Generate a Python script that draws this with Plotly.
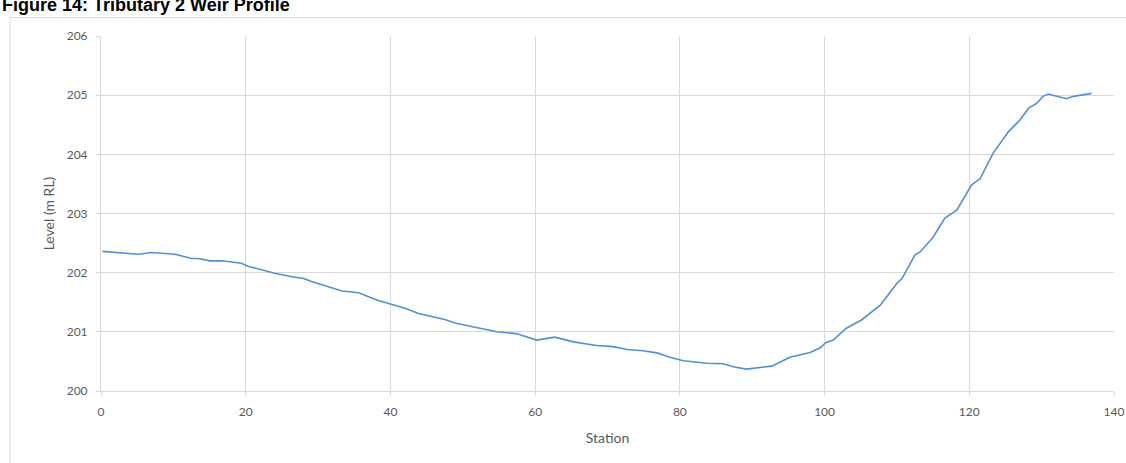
import plotly.graph_objects as go

# Data
station = [0.2, 2.4, 4.2, 5.2, 7.0, 8.8, 10.2, 11.6, 12.5, 13.4, 15.1, 16.7, 18.1, 19.4,
           20.3, 21.7, 24.0, 26.4, 28.0, 29.1, 31.4, 33.3, 35.6, 36.5, 38.3, 40.6, 42.0,
           43.9, 45.7, 47.5, 49.2, 51.5, 54.7, 57.4, 58.8, 60.2, 62.7, 65.3, 68.5, 70.8,
           72.7, 74.9, 77.0, 78.6, 80.5, 83.7, 86.0, 87.4, 89.2, 91.1, 92.7, 95.2, 98.0,
           99.4, 100.2, 101.2, 103.0, 105.1, 107.7, 110.0, 110.7, 112.5, 113.2, 115.0,
           116.6, 118.3, 120.3, 121.5, 123.3, 125.4, 127.0, 128.2, 129.3, 130.2, 130.9,
           132.1, 133.4, 134.4, 135.8, 136.9]
level = [202.36, 202.34, 202.33, 202.31, 202.34, 202.33, 202.31, 202.27, 202.24, 202.24,
         202.20, 202.20, 202.18, 202.16, 202.11, 202.06, 201.99, 201.93, 201.90, 201.85,
         201.76, 201.69, 201.66, 201.62, 201.53, 201.45, 201.40, 201.31, 201.26, 201.21,
         201.14, 201.08, 201.00, 200.97, 200.91, 200.86, 200.91, 200.83, 200.77, 200.75,
         200.70, 200.68, 200.64, 200.57, 200.51, 200.47, 200.46, 200.41, 200.37, 200.40,
         200.42, 200.57, 200.65, 200.73, 200.82, 200.86, 201.06, 201.20, 201.45, 201.82,
         201.90, 202.30, 202.35, 202.60, 202.92, 203.06, 203.48, 203.59, 204.02, 204.38,
         204.58, 204.78, 204.86, 204.98, 205.02, 204.98, 204.94, 204.98, 205.01, 205.03]

x_ticks = [0, 20, 40, 60, 80, 100, 120, 140]
y_ticks = [200, 201, 202, 203, 204, 205, 206]

title_text = "Figure 14: Tributary 2 Weir Profile"
x_title = "Station"
y_title = "Level (m RL)"

W, H = 1126, 463
L, R, T, B = 101, 12, 36, 72
pw, ph = W - L - R, H - T - B

def px_to_paper_x(p):
    return (p - L) / pw

def py_to_paper_y(p):
    return (H - B - p) / ph

fig = go.Figure()
fig.add_trace(go.Scatter(x=station, y=level, mode="lines",
                         line=dict(color="#4f91d9", width=1.6),
                         showlegend=False, hoverinfo="x+y"))

tick_font = dict(family="Lato, 'Open Sans', sans-serif", size=12, color="#595959")
axis_common = dict(showgrid=True, gridcolor="#d9d9d9", gridwidth=1,
                   zeroline=False, showline=True, linecolor="#d9d9d9", linewidth=1,
                   ticks="outside", ticklen=4, tickcolor="#d9d9d9",
                   tickfont=tick_font)

fig.update_xaxes(range=[0, 140], tickvals=x_ticks, ticklabelstandoff=6,
                 title=dict(text=x_title, font=dict(family="Lato, sans-serif", size=14, color="#595959"),
                            standoff=14),
                 **axis_common)
fig.update_yaxes(range=[200, 206], tickvals=y_ticks, ticklabelstandoff=6,
                 title=dict(text=y_title, font=dict(family="Lato, sans-serif", size=14, color="#595959"),
                            standoff=8),
                 **axis_common)

# outer chart border (partially off-canvas)
fig.add_shape(type="rect", xref="paper", yref="paper",
              x0=px_to_paper_x(10), x1=px_to_paper_x(1200),
              y0=py_to_paper_y(520), y1=py_to_paper_y(17.5),
              line=dict(color="#d9d9d9", width=1), fillcolor="rgba(0,0,0,0)", layer="below")

# title at top, partially clipped like the reference
fig.add_annotation(text="<b>" + title_text + "</b>", xref="paper", yref="paper",
                   x=px_to_paper_x(0), y=py_to_paper_y(5), xanchor="left", yanchor="middle",
                   showarrow=False,
                   font=dict(family="Liberation Sans, Arial, sans-serif", size=18, color="#000000"))

fig.update_layout(width=W, height=H, margin=dict(l=L, r=R, t=T, b=B, autoexpand=False),
                  paper_bgcolor="white", plot_bgcolor="white")

fig.write_html("out.html", config={"displayModeBar": False},
               post_script="document.body.style.margin='0';document.body.style.overflow='hidden';")
